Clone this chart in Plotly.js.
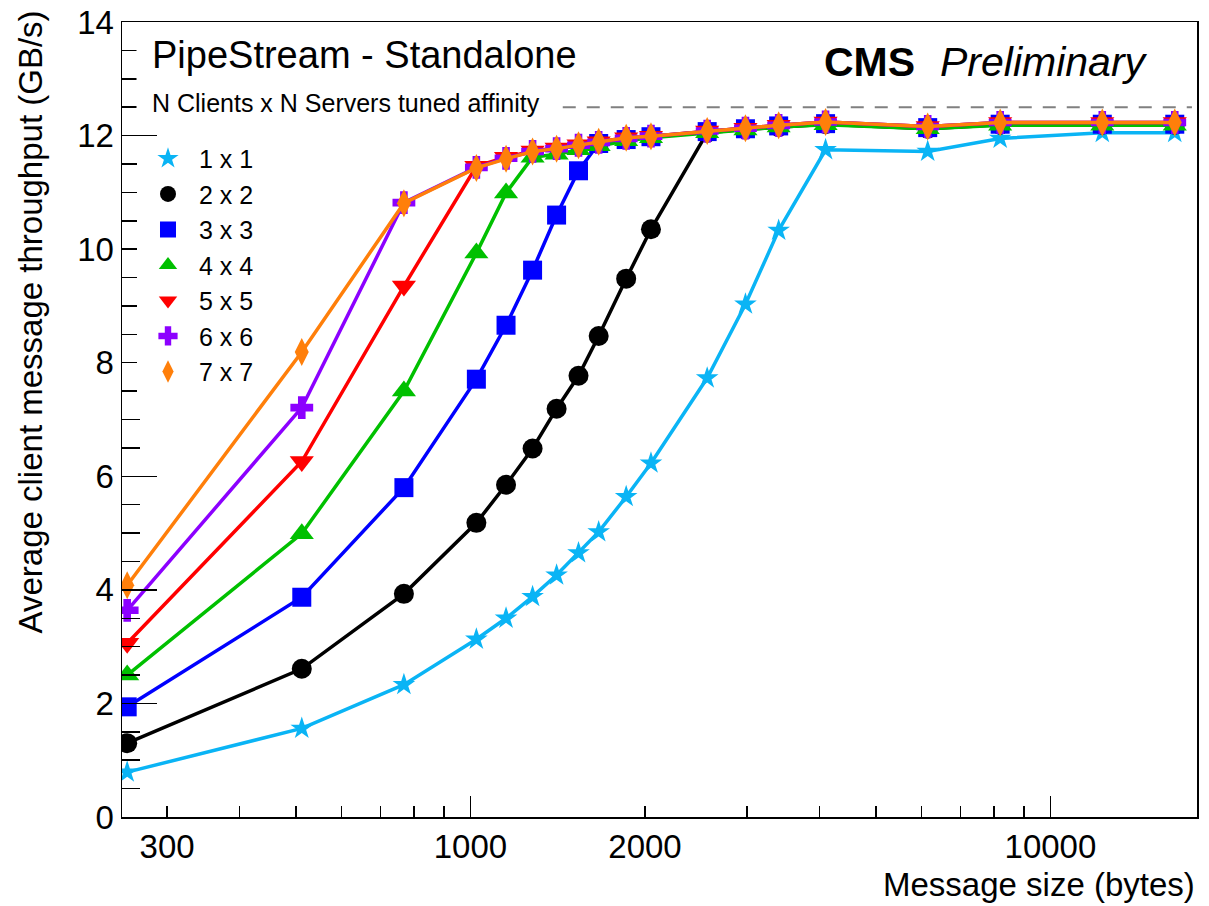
<!DOCTYPE html>
<html><head><meta charset="utf-8">
<script src="https://cdn.plot.ly/plotly-3.0.1.min.js"></script>
<style>html,body{margin:0;padding:0;background:#fff}#chart{width:1209px;height:906px}</style>
</head><body><div id="chart"></div>
<script>
// ---- data ----
const messageSizes = [256, 512, 768, 1024, 1152, 1280, 1408, 1536, 1664, 1856, 2048, 2560, 2980, 3400, 4096, 6144, 8192, 12288, 16384];
const seriesNames = ['1 x 1', '2 x 2', '3 x 3', '4 x 4', '5 x 5', '6 x 6', '7 x 7'];
const tp1x1 = [0.79, 1.56, 2.33, 3.13, 3.50, 3.88, 4.26, 4.65, 5.02, 5.64, 6.23, 7.73, 9.03, 10.33, 11.75, 11.72, 11.95, 12.05, 12.05];
const tp2x2 = [1.30, 2.61, 3.93, 5.18, 5.85, 6.49, 7.19, 7.77, 8.47, 9.48, 10.35, 12.05, 12.11, 12.15, 12.20, 12.12, 12.19, 12.19, 12.19];
const tp3x3 = [1.94, 3.87, 5.80, 7.71, 8.66, 9.63, 10.60, 11.38, 11.86, 11.93, 11.98, 12.07, 12.12, 12.17, 12.21, 12.14, 12.20, 12.20, 12.20];
const tp4x4 = [2.50, 4.99, 7.50, 9.93, 10.99, 11.62, 11.67, 11.75, 11.82, 11.91, 11.96, 12.05, 12.10, 12.15, 12.19, 12.12, 12.18, 12.18, 12.18];
const tp5x5 = [3.06, 6.26, 9.35, 11.46, 11.62, 11.73, 11.78, 11.84, 11.89, 11.96, 11.99, 12.08, 12.13, 12.18, 12.24, 12.16, 12.23, 12.23, 12.23];
const tp6x6 = [3.64, 7.21, 10.82, 11.44, 11.60, 11.72, 11.77, 11.83, 11.88, 11.95, 11.99, 12.08, 12.13, 12.18, 12.24, 12.16, 12.23, 12.23, 12.23];
const tp7x7 = [4.08, 8.19, 10.81, 11.43, 11.59, 11.72, 11.77, 11.83, 11.89, 11.96, 11.99, 12.08, 12.13, 12.18, 12.24, 12.16, 12.23, 12.23, 12.23];
const saturationLevel = 12.5;
const xTickVals = [300, 1000, 2000, 10000];
const xTickText = ['300', '1000', '2000', '10000'];
const xMinorTickVals = [400, 500, 600, 700, 800, 900, 3000, 4000, 5000, 6000, 7000, 8000, 9000];
const xLongTickVals = [1000, 10000];

// ---- styles ----
const FONT = 'Liberation Sans, Arial, Helvetica, sans-serif';
const seriesValues = [tp1x1, tp2x2, tp3x3, tp4x4, tp5x5, tp6x6, tp7x7];
const colors = ['#0ab4f5', '#000000', '#0000ff', '#00c000', '#ff0000', '#8c00ff', '#ff7f0a'];
const symbols = ['star', 'circle', 'square', 'triangle-up', 'triangle-down', 'cross', 'diamond-tall'];
const sizes = [17, 20, 19, 21, 21, 19, 20];

const traces = [];
seriesValues.forEach((vals, i) => {
  traces.push({
    x: messageSizes, y: vals, type: 'scatter', mode: 'lines+markers',
    name: seriesNames[i], showlegend: false,
    line: {color: colors[i], width: 3.5},
    marker: {color: colors[i], symbol: symbols[i], size: sizes[i]}
  });
});
seriesNames.forEach((n, i) => {
  traces.push({
    x: [null], y: [null], xaxis: 'x2', type: 'scatter', mode: 'markers', name: n, showlegend: true,
    marker: {color: colors[i], symbol: symbols[i], size: sizes[i]}
  });
});

const xRange = [2.39931, 4.25276];
const layout = {
  width: 1209, height: 906,
  margin: {l: 122, r: 12, t: 22, b: 89},
  paper_bgcolor: '#ffffff', plot_bgcolor: '#ffffff',
  font: {family: FONT, color: '#000', size: 33},
  showlegend: true,
  xaxis: {
    type: 'log', range: xRange, tickmode: 'array', tickvals: xTickVals, ticktext: xTickText,
    ticks: 'inside', ticklen: 11, tickwidth: 1.5, tickcolor: '#000',
    tickfont: {size: 33, family: FONT, color: '#000'},
    showgrid: false, zeroline: false, showline: true, mirror: true, linecolor: '#000', linewidth: 1.5,
    minor: {tickmode: 'array', tickvals: xMinorTickVals, ticks: 'inside', ticklen: 11, tickwidth: 1.5, tickcolor: '#000', showgrid: false}
  },
  xaxis2: {
    type: 'log', range: xRange, overlaying: 'x', anchor: 'y', side: 'bottom',
    tickmode: 'array', tickvals: xLongTickVals, ticks: 'inside', ticklen: 21, tickwidth: 1.5, tickcolor: '#000',
    showticklabels: false, showgrid: false, zeroline: false, showline: false
  },
  yaxis: {
    range: [0, 14], tickmode: 'linear', tick0: 0, dtick: 2,
    ticks: 'inside', ticklen: 35, tickwidth: 1.5, tickcolor: '#000',
    tickfont: {size: 33, family: FONT, color: '#000'},
    showgrid: false, zeroline: false, showline: true, mirror: true, linecolor: '#000', linewidth: 1.5,
    minor: {tick0: 0, dtick: 0.5, ticks: 'inside', ticklen: 18, tickwidth: 1.5, tickcolor: '#000', showgrid: false}
  },
  legend: {
    x: 0.01395, y: 0.857, xanchor: 'left', yanchor: 'top',
    bgcolor: '#ffffff', borderwidth: 0, itemwidth: 52,
    font: {size: 25, family: FONT, color: '#000'}
  },
  shapes: [
    {type: 'line', xref: 'paper', yref: 'y', x0: 0.41, x1: 0.9953, y0: saturationLevel, y1: saturationLevel,
     line: {color: '#808080', width: 2, dash: '13px,11px'}},
    {type: 'rect', xref: 'paper', yref: 'paper', x0: 0.0135, x1: 0.405, y0: 0.87, y1: 0.997,
     fillcolor: '#ffffff', line: {width: 0}, layer: 'above'}
  ],
  annotations: [
    {text: 'PipeStream - Standalone', xref: 'paper', yref: 'paper', x: 0.0265, y: 0.9585,
     xanchor: 'left', yanchor: 'middle', showarrow: false, font: {size: 38, family: FONT, color: '#000'}},
    {text: 'N Clients x N Servers tuned affinity', xref: 'paper', yref: 'paper', x: 0.0265, y: 0.8981,
     xanchor: 'left', yanchor: 'middle', showarrow: false, font: {size: 25, family: FONT, color: '#000'}},
    {text: '<b>CMS</b>', xref: 'paper', yref: 'paper', x: 0.651, y: 0.9497,
     xanchor: 'left', yanchor: 'middle', showarrow: false, font: {size: 41, family: FONT, color: '#000'}},
    {text: '<i>Preliminary</i>', xref: 'paper', yref: 'paper', x: 0.759, y: 0.9497,
     xanchor: 'left', yanchor: 'middle', showarrow: false, font: {size: 41, family: FONT, color: '#000'}},
    {text: 'Message size (bytes)', xref: 'paper', yref: 'paper', x: 1, y: -0.0843,
     xanchor: 'right', yanchor: 'middle', showarrow: false, font: {size: 33, family: FONT, color: '#000'}},
    {text: 'Average client message throughput (GB/s)', xref: 'paper', yref: 'paper', x: -0.0847, y: 1.0176,
     xanchor: 'center', yanchor: 'top', textangle: -90, showarrow: false, font: {size: 33, family: FONT, color: '#000'}}
  ]
};

Plotly.newPlot('chart', traces, layout, {displayModeBar: false, staticPlot: true});
</script>
</body></html>
